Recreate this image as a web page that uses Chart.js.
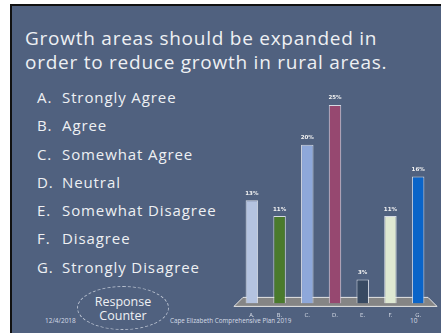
<!DOCTYPE html>
<html>
<head>
<meta charset="utf-8">
<script src="https://cdn.jsdelivr.net/npm/chart.js@4"></script>
<style>
  html, body { margin: 0; padding: 0; background: #fff; }
  body { width: 441px; height: 333px; position: relative; overflow: hidden; font-family: "Open Sans", "DejaVu Sans", sans-serif; }
  .slide {
    position: absolute; left: 10px; top: 4px; width: 431px; height: 329px;
    background: #50617f; border-left: 2px solid #111; border-top: 2px solid #111; box-sizing: border-box;
  }
  .title {
    position: absolute; left: 25px; top: 26px; color: #eef0f3;
    font-size: 19px; line-height: 24px; letter-spacing: 0.75px; white-space: nowrap;
  }
  .list { position: absolute; left: 37px; top: 88px; color: #eef0f3; font-size: 15px; letter-spacing: 0.9px; }
  .list div { height: 28.3px; line-height: 18px; white-space: nowrap; }
  .list span { display: inline-block; width: 25px; }
  .foot { position: absolute; color: #d5dbe6; white-space: nowrap; }
  .ellipse {
    position: absolute; left: 77px; top: 286px; width: 92px; height: 44px; box-sizing: border-box;
    border: 1px dashed #b8c0cf; border-radius: 50%;
    color: #eef0f3; font-size: 12.5px; line-height: 13.5px; text-align: center; padding-top: 8px;
  }
  canvas { position: absolute; left: 0; top: 0; }
</style>
</head>
<body>
<div class="slide"></div>
<div class="title">Growth areas should be expanded in<br>order to reduce growth in rural areas.</div>
<div class="list" id="list"></div>
<div class="ellipse">Response<br>Counter</div>
<div class="foot" style="left:45px; top:316px; font-size:6.5px;">12/4/2018</div>
<div class="foot" style="left:170px; top:316px; font-size:6.3px;">Cape Elizabeth Comprehensive Plan 2019</div>
<div class="foot" style="left:410px; top:316px; font-size:6.5px;">10</div>
<canvas id="chart" width="441" height="333"></canvas>
<script>
// Answer options
const letters = ["A.", "B.", "C.", "D.", "E.", "F.", "G."];
const answers = ["Strongly Agree", "Agree", "Somewhat Agree", "Neutral", "Somewhat Disagree", "Disagree", "Strongly Disagree"];
// Percent of responses
const percents = [13, 11, 20, 25, 3, 11, 16];
const barColors = ["#b4c3e0", "#4a7a2c", "#8ea8da", "#964870", "#384a62", "#dfe8d2", "#0a64c8"];

// list on the left
const list = document.getElementById("list");
letters.forEach(function (l, i) {
  const row = document.createElement("div");
  row.innerHTML = "<span>" + l + "</span>" + answers[i];
  list.appendChild(row);
});

// grey floor under the bars
const floorPlugin = {
  id: "floor",
  beforeDatasetsDraw: function (chart) {
    const a = chart.chartArea;
    const ctx = chart.ctx;
    ctx.save();
    ctx.beginPath();
    ctx.moveTo(a.left + 5, a.bottom - 6);
    ctx.lineTo(a.right - 4, a.bottom - 6);
    ctx.lineTo(a.right + 5, a.bottom + 3);
    ctx.lineTo(a.left - 4, a.bottom + 3);
    ctx.closePath();
    ctx.fillStyle = "#858585";
    ctx.fill();
    ctx.strokeStyle = "#e6e6e6";
    ctx.lineWidth = 1;
    ctx.stroke();
    ctx.restore();
  },
};

// value labels above bars
const labelPlugin = {
  id: "valueLabels",
  afterDatasetsDraw: function (chart) {
    const ctx = chart.ctx;
    const meta = chart.getDatasetMeta(0);
    ctx.save();
    ctx.fillStyle = "#f2f2f2";
    ctx.font = "bold 5.5px 'DejaVu Sans', sans-serif";
    ctx.textAlign = "center";
    ctx.textBaseline = "middle";
    meta.data.forEach(function (bar, i) {
      ctx.fillText(percents[i] + "%", bar.x, bar.y - 7);
    });
    ctx.restore();
  },
};

new Chart(document.getElementById("chart"), {
  type: "bar",
  data: {
    labels: letters,
    datasets: [{
      data: percents,
      backgroundColor: barColors,
      borderColor: "rgba(235,238,245,0.85)",
      borderWidth: 1,
      categoryPercentage: 1,
      barPercentage: 0.45,
    }],
  },
  options: {
    responsive: false,
    animation: false,
    devicePixelRatio: 1,
    layout: { padding: { left: 238, right: 9, top: 105, bottom: 5 } },
    plugins: { legend: { display: false }, tooltip: { enabled: false } },
    scales: {
      x: {
        grid: { display: false, drawTicks: false },
        border: { display: false },
        ticks: { color: "#d5dbe6", font: { size: 5.5, family: "DejaVu Sans" }, padding: 9 },
      },
      y: { display: false, min: 0, max: 25 },
    },
  },
  plugins: [floorPlugin, labelPlugin],
});
</script>
</body>
</html>
